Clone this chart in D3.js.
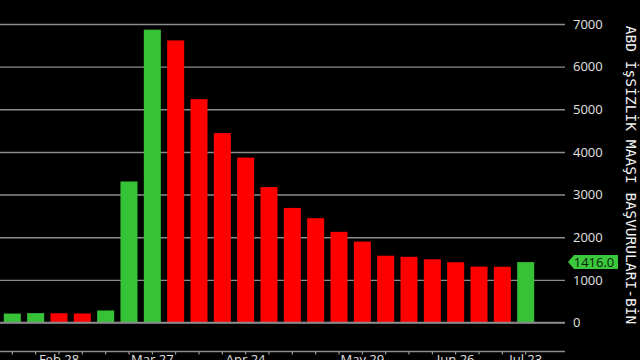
<!DOCTYPE html>
<html>
<head>
<meta charset="utf-8">
<script src="https://cdn.jsdelivr.net/npm/d3@7"></script>
<style>
  html, body { margin: 0; padding: 0; background: #000; }
  svg { display: block; }
</style>
</head>
<body>
<div id="chart"></div>
<script>
// weekly initial claims, thousands (week ending)
const weeks = ["Feb 15", "Feb 22", "Feb 29", "Mar 7", "Mar 14", "Mar 21", "Mar 28",
  "Apr 4", "Apr 11", "Apr 18", "Apr 25", "May 2", "May 9", "May 16", "May 23", "May 30",
  "Jun 6", "Jun 13", "Jun 20", "Jun 27", "Jul 4", "Jul 11", "Jul 18"];
const claims = [210, 220, 217, 211, 282, 3307, 6867, 6615, 5237, 4442, 3867, 3176, 2687,
  2446, 2126, 1897, 1566, 1540, 1482, 1413, 1310, 1307, 1416];
const prevClaim = 204; // week before the first bar, decides first bar colour
const yTicks = [0, 1000, 2000, 3000, 4000, 5000, 6000, 7000];
const labelWeeks = ["Feb 29", "Mar 28", "Apr 25", "May 30", "Jun 27", "Jul 18"];
const labelTexts = ["Feb 28", "Mar 27", "Apr 24", "May 29", "Jun 26", "Jul 23"];
const title = "ABD İşSİZLİK MAAŞI BAŞVURULARI-BİN";

var width = 640, height = 360;
var plotRight = 565, axisY = 351.5;
var green = "#36c236", red = "#ff0000", grid = "#8c8c8c";

var svg = d3.select("#chart").append("svg")
  .attr("width", width)
  .attr("height", height);

svg.append("rect").attr("width", width).attr("height", height).attr("fill", "#000");

var x = d3.scaleBand()
  .domain(weeks)
  .range([1, 537])
  .paddingInner(0.27)
  .paddingOuter(0.12);

var y = d3.scaleLinear()
  .domain([0, 7000])
  .range([322.5, 24]);

// gridlines + right labels
var yAxis = d3.axisRight(y)
  .tickValues(yTicks)
  .tickSize(plotRight)
  .tickPadding(8)
  .tickFormat(d3.format("d"));

var gy = svg.append("g").call(yAxis);
gy.select(".domain").remove();
gy.selectAll(".tick line").attr("stroke", grid).attr("stroke-width", 1.4);
gy.selectAll(".tick text")
  .attr("fill", "#e0e0e0")
  .attr("font-family", "'Open Sans', sans-serif")
  .attr("font-size", 13);

// bars
svg.append("g").selectAll("rect")
  .data(claims)
  .enter().append("rect")
  .attr("x", function (d, i) { return x(weeks[i]); })
  .attr("width", x.bandwidth())
  .attr("y", function (d) { return y(d); })
  .attr("height", function (d) { return y(0) - y(d); })
  .attr("fill", function (d, i) {
    var prev = i === 0 ? prevClaim : claims[i - 1];
    return d >= prev ? green : red;
  });

// redraw baseline over bars
svg.append("line")
  .attr("x1", 0).attr("x2", plotRight)
  .attr("y1", y(0)).attr("y2", y(0))
  .attr("stroke", grid).attr("stroke-width", 1.4);

// bottom time axis (labels run off the bottom edge, as in the source)
var xAxis = d3.axisBottom(x)
  .tickSize(3)
  .tickPadding(0.5)
  .tickFormat(function (d) {
    var k = labelWeeks.indexOf(d);
    return k < 0 ? "" : labelTexts[k];
  });

var gx = svg.append("g")
  .attr("transform", "translate(0," + axisY + ")")
  .call(xAxis);
gx.select(".domain").remove();
gx.selectAll(".tick line").attr("stroke", "#bbb");
gx.selectAll(".tick text")
  .attr("fill", "#e0e0e0")
  .attr("font-family", "'Open Sans', sans-serif")
  .attr("font-size", 13);
gx.append("line")
  .attr("x1", 0).attr("x2", plotRight)
  .attr("stroke", grid).attr("stroke-width", 1.4);

// last value tag
var last = claims[claims.length - 1];
var ty = y(last), tx = 568;
svg.append("path")
  .attr("d", "M" + tx + "," + ty + "L" + (tx + 6) + "," + (ty - 7) + "H618V" + (ty + 7) + "H" + (tx + 6) + "Z")
  .attr("fill", "#3cc83c");
svg.append("text")
  .attr("x", 594)
  .attr("y", ty + 4.5)
  .attr("text-anchor", "middle")
  .attr("fill", "#0a1f0a")
  .attr("font-family", "'Open Sans', sans-serif")
  .attr("font-size", 13)
  .text(last.toFixed(1));

// vertical title on the right
svg.append("text")
  .attr("transform", "translate(626,175) rotate(90)")
  .attr("text-anchor", "middle")
  .attr("fill", "#f2f2f2")
  .attr("font-family", "'DejaVu Sans Mono', monospace")
  .attr("font-size", 14.6)
  .text(title);
</script>
</body>
</html>
